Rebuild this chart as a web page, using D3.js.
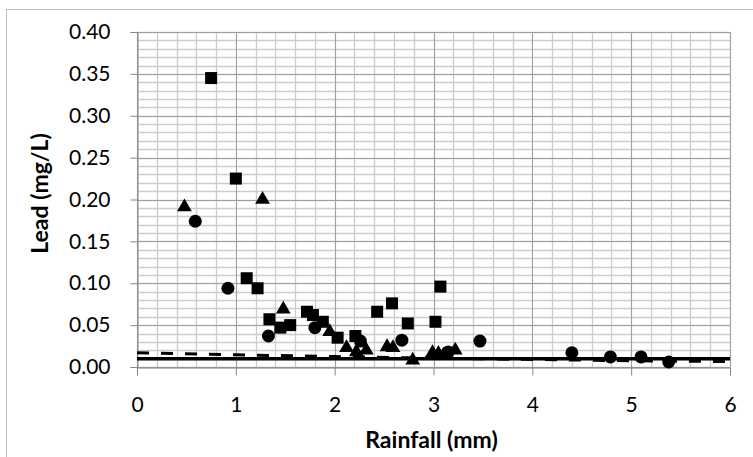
<!DOCTYPE html>
<html>
<head>
<meta charset="utf-8">
<script src="https://cdn.jsdelivr.net/npm/d3@7"></script>
<style>
  body { margin: 0; background: #fff; }
  svg text { font-family: Lato, "Open Sans", sans-serif; fill: #000; }
</style>
</head>
<body>
<div id="chart"></div>
<script>
// values
const squares = [
    [0.75, 0.345], [1.00, 0.225], [1.11, 0.106], [1.22, 0.094], [1.34, 0.057],
    [1.45, 0.047], [1.55, 0.050], [1.72, 0.066], [1.78, 0.062], [1.88, 0.054],
    [2.03, 0.035], [2.21, 0.037], [2.43, 0.066], [2.58, 0.076], [2.74, 0.052],
    [3.02, 0.054], [3.07, 0.096]
];
const circles = [
    [0.59, 0.174], [0.92, 0.094], [1.33, 0.037], [1.80, 0.047], [2.26, 0.031],
    [2.68, 0.032], [3.15, 0.018], [3.47, 0.031], [4.40, 0.017], [4.79, 0.012],
    [5.10, 0.012], [5.38, 0.006]
];
const triangles = [
    [0.48, 0.191], [1.27, 0.200], [1.48, 0.069], [1.95, 0.042], [2.12, 0.023],
    [2.22, 0.018], [2.32, 0.020], [2.53, 0.024], [2.59, 0.023], [2.79, 0.008],
    [2.99, 0.017], [3.05, 0.016], [3.10, 0.014], [3.22, 0.020]
];
const limitLine = [[0, 0.010], [6, 0.010]];
const trendLine = [[0, 0.017], [1, 0.0145], [2, 0.0125], [3, 0.0105], [4, 0.009], [5, 0.0075], [6, 0.0064]];
const xTicks = [0, 1, 2, 3, 4, 5, 6];
const yTicks = [0, 0.05, 0.10, 0.15, 0.20, 0.25, 0.30, 0.35, 0.40];

const width = 753, height = 457;
const margin = { top: 32, right: 23, bottom: 90, left: 137 };

const svg = d3.select('#chart').append('svg')
    .attr('width', width)
    .attr('height', height);

// outer chart border
svg.append('rect')
    .attr('x', 6.5).attr('y', 9.5)
    .attr('width', 760).attr('height', 460)
    .attr('fill', 'none')
    .attr('stroke', '#bfbfbf');

const x = d3.scaleLinear().domain([0, 6]).range([margin.left, width - margin.right]);
const y = d3.scaleLinear().domain([0, 0.40]).range([height - margin.bottom, margin.top]);

// minor grid
const grid = svg.append('g');
grid.selectAll('.vminor')
    .data(d3.range(0, 31).map(i => i * 0.2))
    .enter().append('line')
    .attr('x1', d => Math.round(x(d)) + 0.5).attr('x2', d => Math.round(x(d)) + 0.5)
    .attr('y1', y(0.40)).attr('y2', y(0))
    .attr('stroke', '#cccccc').attr('stroke-width', 1.3);
grid.selectAll('.hminor')
    .data(d3.range(0, 41).map(i => i * 0.01))
    .enter().append('line')
    .attr('x1', x(0)).attr('x2', x(6))
    .attr('y1', d => Math.round(y(d)) + 0.5).attr('y2', d => Math.round(y(d)) + 0.5)
    .attr('stroke', '#cccccc').attr('stroke-width', 1.3);
// major grid
grid.selectAll('.vmajor')
    .data(xTicks)
    .enter().append('line')
    .attr('x1', d => Math.round(x(d)) + 0.5).attr('x2', d => Math.round(x(d)) + 0.5)
    .attr('y1', y(0.40)).attr('y2', y(0))
    .attr('stroke', '#a0a0a0');
grid.selectAll('.hmajor')
    .data(yTicks)
    .enter().append('line')
    .attr('x1', x(0)).attr('x2', x(6))
    .attr('y1', d => Math.round(y(d)) + 0.5).attr('y2', d => Math.round(y(d)) + 0.5)
    .attr('stroke', '#a0a0a0');

// axes
const xAxis = svg.append('g')
    .attr('transform', `translate(0,${Math.round(y(0)) + 0.5})`)
    .call(d3.axisBottom(x).tickValues(xTicks).tickFormat(d3.format('d')).tickSize(8).tickPadding(22));
const yAxis = svg.append('g')
    .attr('transform', `translate(${Math.round(x(0)) + 0.5},0)`)
    .call(d3.axisLeft(y).tickValues(yTicks).tickFormat(d3.format('.2f')).tickSize(7).tickPadding(20));
[xAxis, yAxis].forEach(a => {
    a.select('.domain').attr('stroke', '#868686');
    a.selectAll('.tick line').attr('stroke', '#868686');
    a.selectAll('.tick text').style('font-size', '21px');
});

// lines
const line = d3.line().x(d => x(d[0])).y(d => y(d[1]));
svg.append('path')
    .datum(trendLine)
    .attr('d', line)
    .attr('fill', 'none')
    .attr('stroke', '#000')
    .attr('stroke-width', 3)
    .attr('stroke-dasharray', '12,12');
svg.append('path')
    .datum(limitLine)
    .attr('d', line)
    .attr('fill', 'none')
    .attr('stroke', '#000')
    .attr('stroke-width', 3.5);

// markers
svg.selectAll('.sq')
    .data(squares)
    .enter().append('rect')
    .attr('x', d => x(d[0]) - 6).attr('y', d => y(d[1]) - 6)
    .attr('width', 12).attr('height', 12)
    .attr('fill', '#000');
svg.selectAll('.ci')
    .data(circles)
    .enter().append('circle')
    .attr('cx', d => x(d[0])).attr('cy', d => y(d[1]))
    .attr('r', 6.5)
    .attr('fill', '#000');
const tri = d3.symbol().type(d3.symbolTriangle).size(95);
svg.selectAll('.tr')
    .data(triangles)
    .enter().append('path')
    .attr('d', tri)
    .attr('transform', d => `translate(${x(d[0])},${y(d[1])})`)
    .attr('fill', '#000');

// axis titles
svg.append('text')
    .attr('x', x(3) - 2).attr('y', 448)
    .attr('text-anchor', 'middle')
    .style('font-size', '23px').style('font-weight', 'bold')
    .text('Rainfall (mm)');
svg.append('text')
    .attr('transform', `translate(48,${y(0.2) - 6}) rotate(-90)`)
    .attr('text-anchor', 'middle')
    .style('font-size', '23px').style('font-weight', 'bold')
    .text('Lead (mg/L)');
</script>
</body>
</html>
